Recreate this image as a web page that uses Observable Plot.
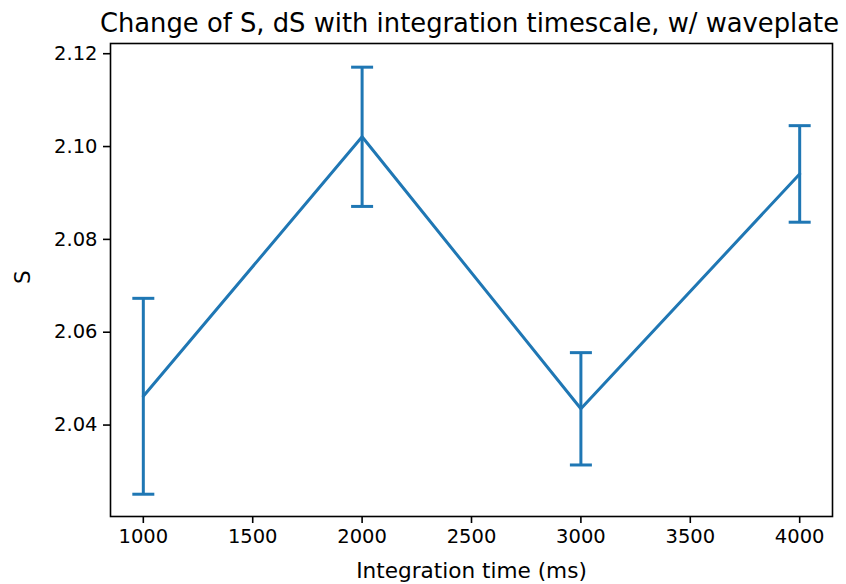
<!DOCTYPE html>
<html>
<head>
<meta charset="utf-8">
<script src="https://cdn.jsdelivr.net/npm/d3@7"></script>
<script src="https://cdn.jsdelivr.net/npm/@observablehq/plot@0.6"></script>
<style>
  html, body { margin: 0; padding: 0; background: #fff; }
</style>
</head>
<body>
<div id="chart"></div>
<script>
const integrationTimes = [1000, 2000, 3000, 4000];
const sValues = [2.0462, 2.1021, 2.0435, 2.0941];
const dsValues = [0.0211, 0.0150, 0.0121, 0.0104];
const xTicks = [1000, 1500, 2000, 2500, 3000, 3500, 4000];
const yTicks = [2.04, 2.06, 2.08, 2.10, 2.12];
const titleText = "Change of S, dS with integration timescale, w/ waveplate";
const xLabel = "Integration time (ms)";
const yLabel = "S";

const data = integrationTimes.map((t, i) => ({t, s: sValues[i], lo: sValues[i] - dsValues[i], hi: sValues[i] + dsValues[i]}));

const blue = "#1f77b4";
const capSymbol = {
  draw(context, size) {
    const r = Math.sqrt(size / Math.PI);
    context.moveTo(-r, 0);
    context.lineTo(r, 0);
  }
};

const chart = Plot.plot({
  width: 846,
  height: 584,
  marginTop: 43,
  marginLeft: 110,
  marginRight: 14,
  marginBottom: 68,
  style: {fontFamily: "DejaVu Sans", fontSize: "19.5px", color: "#000", background: "#fff"},
  x: {domain: [850, 4150]},
  y: {domain: [2.0203, 2.1222]},
  marks: [
    Plot.axisX({ticks: xTicks, tickSize: 7, tickPadding: 6, tickFormat: d3.format("d"), label: null, stroke: "#000", strokeWidth: 1.6, fontSize: 19.5}),
    Plot.axisY({ticks: yTicks, tickSize: 7, tickPadding: 6, tickFormat: d3.format(".2f"), label: null, stroke: "#000", strokeWidth: 1.6, fontSize: 19.5}),
    Plot.ruleX(data, {x: "t", y1: "lo", y2: "hi", stroke: blue, strokeWidth: 3}),
    Plot.dot(data, {x: "t", y: "lo", symbol: capSymbol, r: 11, stroke: blue, strokeWidth: 3, fill: "none"}),
    Plot.dot(data, {x: "t", y: "hi", symbol: capSymbol, r: 11, stroke: blue, strokeWidth: 3, fill: "none"}),
    Plot.line(data, {x: "t", y: "s", stroke: blue, strokeWidth: 3}),
    Plot.frame({stroke: "#000", strokeWidth: 1.6}),
    Plot.text([titleText], {frameAnchor: "top", dx: -2, dy: -12, lineAnchor: "bottom", fontSize: 25.8, fill: "#000"}),
    Plot.text([xLabel], {frameAnchor: "bottom", dy: 61, lineAnchor: "bottom", fontSize: 21.6, fill: "#000"}),
    Plot.text([yLabel], {frameAnchor: "left", dx: -87, dy: 4, rotate: -90, fontSize: 21.6, fill: "#000"})
  ]
});
document.getElementById("chart").appendChild(chart);
</script>
</body>
</html>
